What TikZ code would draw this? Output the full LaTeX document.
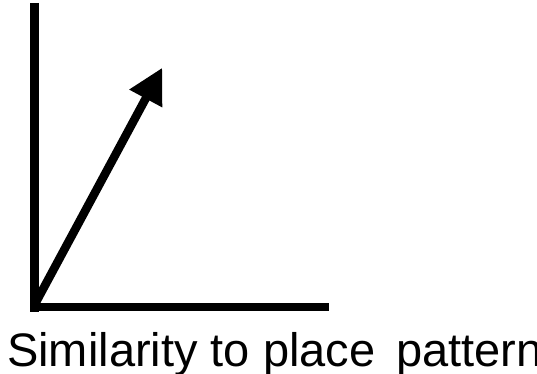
\documentclass[tikz,border=0pt]{standalone}
\usepackage{fontspec}
\setmainfont{Liberation Sans}
\usetikzlibrary{arrows.meta}
\tikzset{
  axis/.style={line width=8.5pt},
  vec/.style={line width=8.5pt, -{Triangle[length=35pt,width=35pt]}},
  lbl/.style={font=\fontsize{47pt}{52pt}\selectfont, inner sep=0pt, anchor=base west}
}
\begin{document}
\begin{tikzpicture}[x=1pt,y=-1pt]
\useasboundingbox (0,0) rectangle (537,374);
\clip (0,0) rectangle (537,374);
\coordinate (ytop) at (34.5,3);
\coordinate (ybot) at (34.5,311.5);
\coordinate (xl) at (30,307);
\coordinate (xr) at (329,307);
\coordinate (o) at (35,304);
\coordinate (tip) at (162.3,67.7);
\draw[axis] (ytop) -- (ybot);
\draw[axis] (xl) -- (xr);
\draw[vec] (o) -- (tip);
\node[lbl] (label) at (7,366.5) {Similarity to place\hspace{8pt} pattern};
\end{tikzpicture}
\end{document}
